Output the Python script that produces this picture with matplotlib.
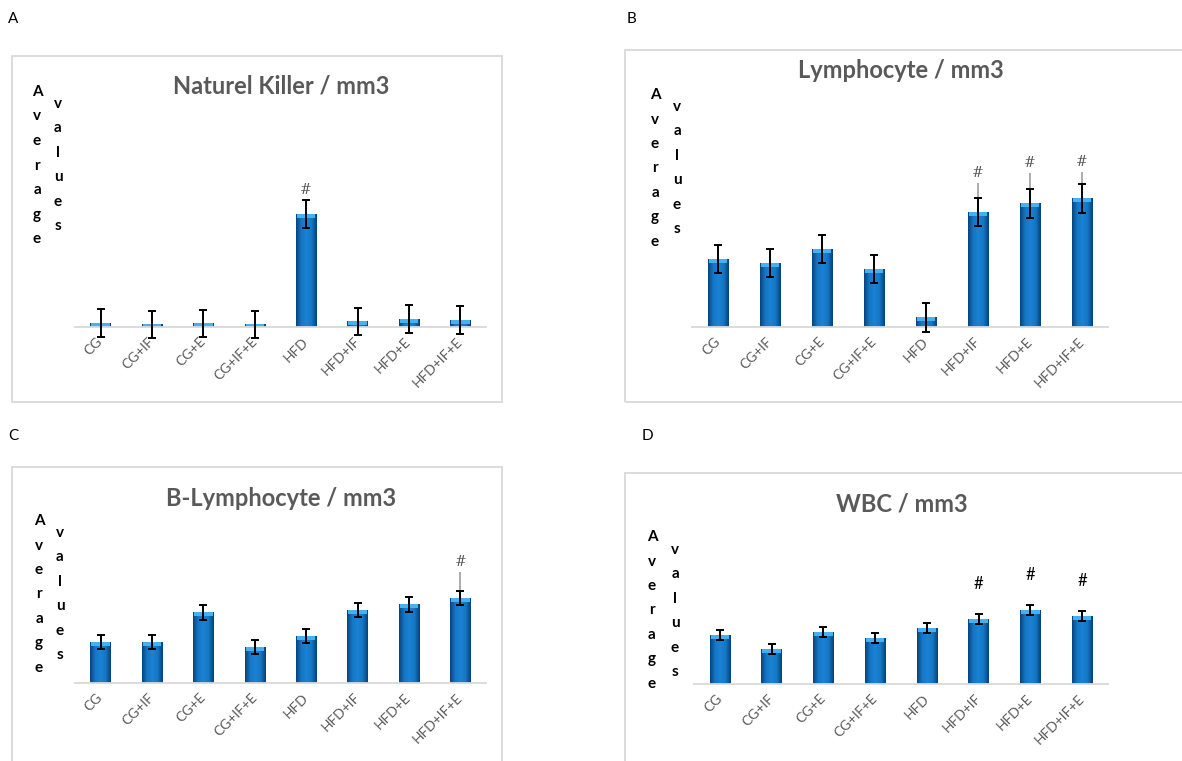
import numpy as np
import matplotlib
matplotlib.use("Agg")
import matplotlib.pyplot as plt
from matplotlib.patches import Rectangle
from matplotlib.colors import LinearSegmentedColormap

plt.rcParams['font.family'] = ['Lato', 'DejaVu Sans']

groups = ['CG', 'CG+IF', 'CG+E', 'CG+IF+E', 'HFD', 'HFD+IF', 'HFD+E', 'HFD+IF+E']

# relative mean values (no y scale shown in the original) and SD
nk_mean = [4, 3, 4, 3, 113, 6, 8, 7]
nk_sd = [14, 13.5, 13.5, 13.5, 14, 13.5, 14, 14]
nk_extra = [0, 0, 0, 0, 0, 0, 0, 0]
nk_sig = [0, 0, 0, 0, 1, 0, 0, 0]

lym_mean = [68, 64, 78, 58, 10, 115, 124, 129]
lym_sd = [14, 14, 14, 14, 14.5, 14, 14.5, 14.5]
lym_extra = [0, 0, 0, 0, 0, 29, 30, 26]
lym_sig = [0, 0, 0, 0, 0, 1, 1, 1]

blym_mean = [41, 41, 71, 36, 47, 73, 79, 85]
blym_sd = [7, 7, 7.5, 7, 7, 7, 7.5, 7]
blym_extra = [0, 0, 0, 0, 0, 0, 0, 26]
blym_sig = [0, 0, 0, 0, 0, 0, 0, 1]

wbc_mean = [49, 35, 52, 46, 56, 65, 74, 68]
wbc_sd = [5, 5, 5, 5, 5, 5, 5, 5]
wbc_extra = [0, 0, 0, 0, 0, 0, 0, 0]
wbc_sig = [0, 0, 0, 0, 0, 1, 1, 1]

W, H = 1182, 761
fig = plt.figure(figsize=(W / 100, H / 100), dpi=100)

grad = LinearSegmentedColormap.from_list('bar', ['#08457e', '#1577c6', '#1c82d3', '#1577c6', '#07427a'])
gray_txt = '#595959'


def px_axes(x0, x1, base, top):
    return fig.add_axes([x0 / W, 1 - base / H, (x1 - x0) / W, (base - top) / H])


def panel(letter, lx, ly, frame, ax_box, title, ty, ylab_x, ylab_y, mean, sd, extra, sig, sig_style):
    fig.text(lx / W, 1 - ly / H, letter, fontsize=11, ha='center', va='center', color='black')
    fx0, fy0, fx1, fy1 = frame
    fig.patches.append(Rectangle((fx0 / W, 1 - fy1 / H), (fx1 - fx0) / W, (fy1 - fy0) / H,
                                 transform=fig.transFigure, fill=False, edgecolor='#d9d9d9', lw=1.3))
    x0, x1, base = ax_box
    ax = px_axes(x0, x1, base, base - 240)
    x = np.arange(len(groups))
    bars = ax.bar(x, mean, width=0.4, color='#1577c6', zorder=2)
    for b in bars:
        bx, bw, bh = b.get_x(), b.get_width(), b.get_height()
        im = ax.imshow(np.linspace(0, 1, 50).reshape(1, -1), cmap=grad, aspect='auto',
                       extent=(bx, bx + bw, 0, bh), zorder=2.1)
        im.set_clip_path(b)
        top_h = min(4, bh)
        ax.bar(b.get_x() + bw / 2, top_h, bottom=bh - top_h, width=bw * 0.9,
               color='#45b1f0', zorder=2.2)
    ex_x = [i for i in x if extra[i] > 0]
    if ex_x:
        ax.errorbar(ex_x, [mean[i] for i in ex_x],
                    yerr=[[0] * len(ex_x), [extra[i] for i in ex_x]],
                    fmt='none', ecolor='#a6a6a6', elinewidth=1.3, capsize=0, zorder=2.5, clip_on=False)
    ax.errorbar(x, mean, yerr=sd, fmt='none', ecolor='black', elinewidth=1.4,
                capsize=3.2, capthick=1.4, zorder=3, clip_on=False)
    for i in x:
        if sig[i]:
            top = mean[i] + max(sd[i], extra[i])
            if sig_style == 'black':
                ax.text(i, top + 30, '#', ha='center', va='center', fontsize=12, color='black')
            else:
                ax.text(i, top + 10, '#', ha='center', va='center', fontsize=10,
                        color=gray_txt, family='DejaVu Serif')
    ax.set_xlim(-0.5, len(groups) - 0.5)
    ax.set_ylim(0, 240)
    for s in ['top', 'right', 'left']:
        ax.spines[s].set_visible(False)
    ax.spines['bottom'].set_color('#d9d9d9')
    ax.spines['bottom'].set_linewidth(1.3)
    ax.set_yticks([])
    ax.set_xticks(x)
    ax.set_xticklabels(groups, rotation=45, ha='right', va='center', rotation_mode='anchor',
                       fontsize=10, color=gray_txt)
    ax.tick_params(axis='x', length=0, pad=9)
    ax.patch.set_alpha(0)
    fig.text(((x0 + x1) / 2 + 1) / W, 1 - ty / H, title, ha='center', va='center',
             fontsize=17, fontweight='bold', color=gray_txt)
    for k, ch in enumerate('Average'):
        fig.text(ylab_x[0] / W, 1 - (ylab_y[0] + 24.5 * k) / H, ch, ha='center', va='center',
                 fontsize=11, fontweight='bold', color='black')
    for k, ch in enumerate('values'):
        fig.text(ylab_x[1] / W, 1 - (ylab_y[1] + 24.4 * k) / H, ch, ha='center', va='center',
                 fontsize=11, fontweight='bold', color='black')
    return ax


panel('A', 13, 19, (12, 56, 502, 402), (75, 486, 327), 'Naturel Killer / mm3', 86,
      (37, 58), (92, 104), nk_mean, nk_sd, nk_extra, nk_sig, 'gray')
panel('B', 632, 19, (625, 50, 1190, 402), (692, 1108, 327), 'Lymphocyte / mm3', 71,
      (655, 677), (95, 107), lym_mean, lym_sd, lym_extra, lym_sig, 'gray')
panel('C', 13, 436, (12, 467, 502, 765), (75, 486, 683), 'B-Lymphocyte / mm3', 498,
      (39, 60), (521, 533), blym_mean, blym_sd, blym_extra, blym_sig, 'gray')
panel('D', 647, 436, (625, 473, 1190, 765), (694, 1108, 684), 'WBC / mm3', 504,
      (652, 675), (537, 550), wbc_mean, wbc_sd, wbc_extra, wbc_sig, 'black')

fig.savefig('out.png', dpi=100)
